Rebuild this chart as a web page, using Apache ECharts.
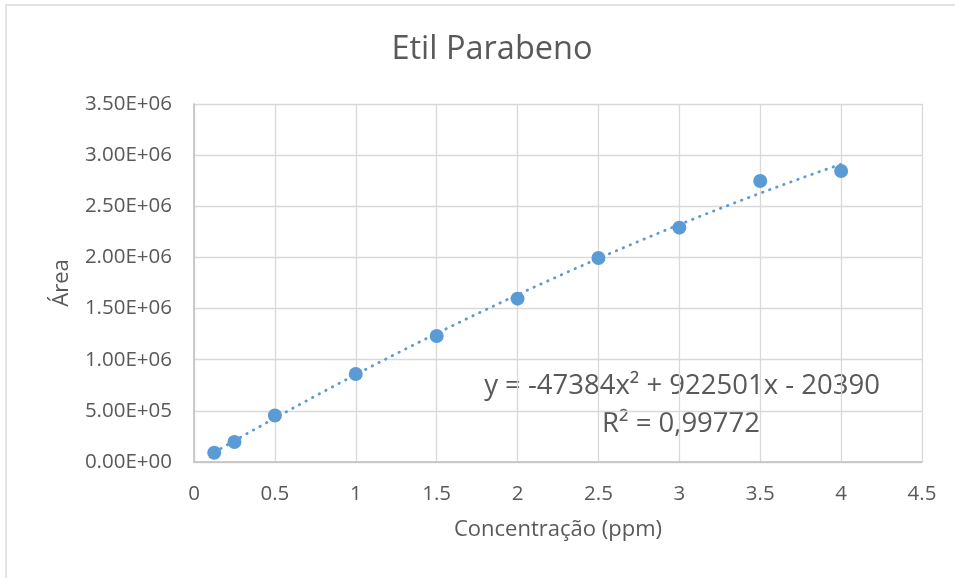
<!DOCTYPE html>
<html>
<head>
<meta charset="utf-8">
<script src="https://cdn.jsdelivr.net/npm/echarts@6/dist/echarts.min.js"></script>
<style>
  html, body { margin: 0; padding: 0; background: #fff; }
  #chart { width: 955px; height: 578px; }
</style>
</head>
<body>
<div id="chart"></div>
<script>
// Calibration points: concentration (ppm) and peak area
const concentration = [0.125, 0.25, 0.5, 1, 1.5, 2, 2.5, 3, 3.5, 4];
const area = [90000, 195000, 455000, 860000, 1232000, 1597000, 1994000, 2291000, 2747000, 2845000];

// Second-order polynomial trendline: y = a*x^2 + b*x + c
const trendCoef = [-47384, 922501, -20390];
const trendRange = [0.125, 4];
const equationText = 'y = -47384x² + 922501x - 20390';
const r2Text = 'R² = 0,99772';

const xTicks = { min: 0, max: 4.5, interval: 0.5 };
const yTicks = { min: 0, max: 3500000, interval: 500000 };

const FONT = '"Open Sans", "Noto Sans", sans-serif';
const TEXT = '#595959';
const BLUE = '#5B9BD5';

// Sample the fitted curve across the data range
const trendData = [];
const steps = 80;
for (let i = 0; i <= steps; i++) {
  const x = trendRange[0] + (trendRange[1] - trendRange[0]) * i / steps;
  trendData.push([x, trendCoef[0] * x * x + trendCoef[1] * x + trendCoef[2]]);
}

const chart = echarts.init(document.getElementById('chart'), null, { renderer: 'canvas' });

chart.setOption({
  animation: false,
  backgroundColor: '#fff',
  title: {
    text: 'Etil Parabeno',
    left: 487,
    textAlign: 'center',
    top: 28,
    textStyle: { fontFamily: FONT, fontSize: 32.5, fontWeight: 'normal', color: TEXT }
  },
  grid: { left: 194, top: 104, right: 33, bottom: 116, containLabel: false },
  xAxis: {
    type: 'value',
    min: xTicks.min, max: xTicks.max, interval: xTicks.interval,
    name: 'Concentração (ppm)',
    nameLocation: 'middle',
    nameGap: 57,
    nameTextStyle: { fontFamily: FONT, fontSize: 22, color: TEXT },
    axisLine: { show: true, lineStyle: { color: '#BFBFBF', width: 1.5 } },
    axisTick: { show: false },
    axisLabel: {
      fontFamily: FONT, fontSize: 20.5, color: TEXT, margin: 22,
      formatter: v => String(v)
    },
    splitLine: { show: true, lineStyle: { color: '#D9D9D9', width: 1.3 } }
  },
  yAxis: {
    type: 'value',
    min: yTicks.min, max: yTicks.max, interval: yTicks.interval,
    name: 'Área',
    nameLocation: 'middle',
    nameGap: 121,
    nameRotate: 90,
    nameTextStyle: { fontFamily: FONT, fontSize: 22, color: TEXT },
    axisLine: { show: true, lineStyle: { color: '#BFBFBF', width: 1.5 } },
    axisTick: { show: false },
    axisLabel: {
      fontFamily: FONT, fontSize: 20.5, color: TEXT, margin: 22,
      formatter: v => {
        const s = v.toExponential(2).toUpperCase();
        const m = s.match(/^(-?[\d.]+)E([+-])(\d+)$/);
        return m[1] + 'E' + m[2] + m[3].padStart(2, '0');
      }
    },
    splitLine: { show: true, lineStyle: { color: '#D9D9D9', width: 1.3 } }
  },
  series: [
    {
      name: 'Tendência',
      type: 'line',
      data: trendData,
      showSymbol: false,
      smooth: false,
      z: 2,
      lineStyle: { color: BLUE, width: 2.8, type: [0.5, 7], cap: 'round' }
    },
    {
      name: 'Área',
      type: 'scatter',
      data: concentration.map((c, i) => [c, area[i]]),
      symbol: 'circle',
      symbolSize: 14,
      z: 3,
      itemStyle: { color: BLUE, opacity: 1 }
    }
  ],
  graphic: [
    {
      type: 'rect',
      shape: { x: 6, y: 5, width: 1200, height: 1200 },
      style: { fill: 'none', stroke: '#D9D9D9', lineWidth: 1.3 },
      silent: true
    },
    {
      type: 'text',
      x: 682, y: 386,
      style: {
        text: equationText, fontFamily: FONT, fontSize: 27.5, fill: TEXT,
        textAlign: 'center', textVerticalAlign: 'middle'
      }
    },
    {
      type: 'text',
      x: 681, y: 424,
      style: {
        text: r2Text, fontFamily: FONT, fontSize: 27.5, fill: TEXT,
        textAlign: 'center', textVerticalAlign: 'middle'
      }
    }
  ]
});
</script>
</body>
</html>
